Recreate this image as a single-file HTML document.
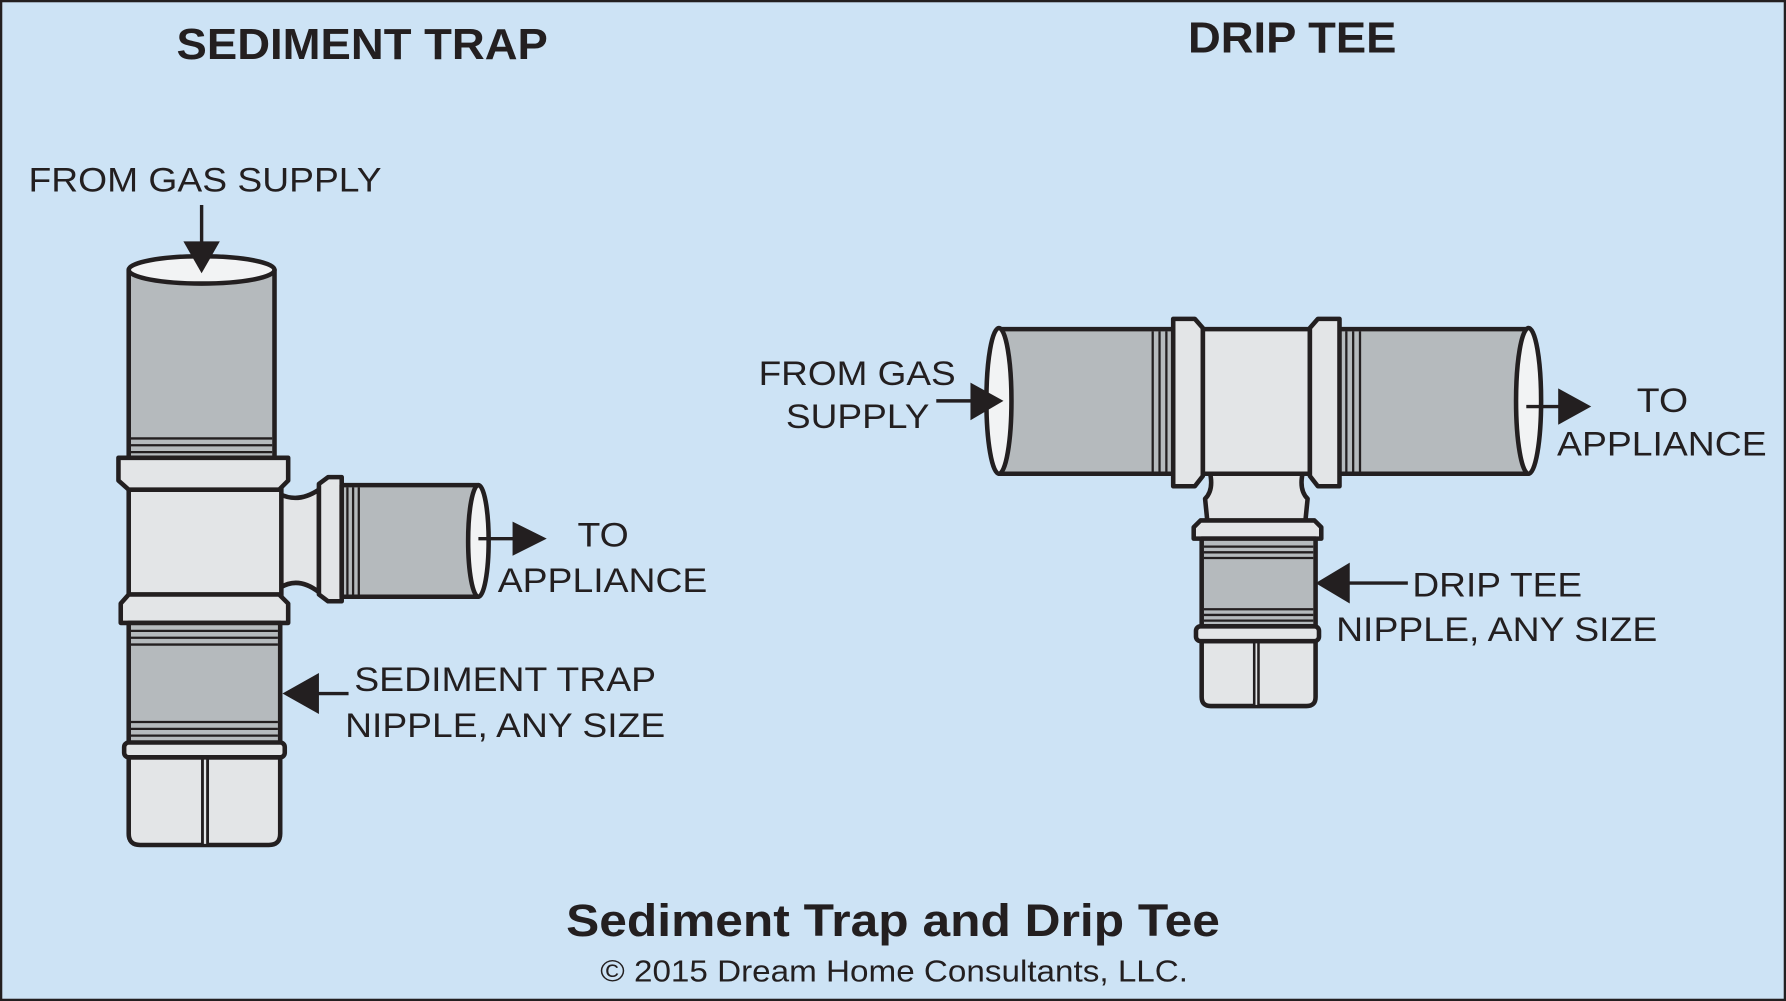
<!DOCTYPE html>
<html><head><style>html,body{margin:0;padding:0;background:#cde3f5}svg{display:block}text{font-family:"Liberation Sans",Arial,sans-serif;fill:#231f20}</style></head>
<body>
<svg width="1786" height="1001" viewBox="0 0 1568 879" preserveAspectRatio="none" xmlns="http://www.w3.org/2000/svg">
<rect x="1" y="1" width="1566" height="877" fill="#cde3f5" stroke="#231f20" stroke-width="2"/>
<g stroke="#231f20" stroke-width="4" stroke-linejoin="round">
<rect x="113" y="237" width="128" height="168" fill="#b5babd"/>
<g stroke-width="2"><line x1="115" y1="385" x2="239" y2="385"/><line x1="115" y1="391" x2="239" y2="391"/><line x1="115" y1="397" x2="239" y2="397"/></g>
<ellipse cx="177" cy="237" rx="64" ry="12" fill="#f2f3f4"/>
<path d="M246 434 Q262 442 280 430 L280 520 Q262 506 246 516 Z" fill="#e3e5e7"/>
<rect x="113" y="428" width="134" height="96" fill="#e3e5e7"/>
<path d="M104 402 H253 V422 L245 430 H113 L104 422 Z" fill="#e3e5e7"/>
<path d="M113 522 H245 L253 530 V547 H106 V530 Z" fill="#e3e5e7"/>
<path d="M280 425 L288 419 H300 V528 H288 L280 522 Z" fill="#e3e5e7"/>
<rect x="300" y="426" width="120" height="98" fill="#b5babd"/>
<g stroke-width="2"><line x1="305" y1="428" x2="305" y2="522"/><line x1="310" y1="428" x2="310" y2="522"/><line x1="315" y1="428" x2="315" y2="522"/></g>
<ellipse cx="420" cy="475" rx="9" ry="49" fill="#f2f3f4"/>
<rect x="113" y="547" width="133" height="106" fill="#b5babd"/>
<g stroke-width="2"><line x1="115" y1="554" x2="244" y2="554"/><line x1="115" y1="560" x2="244" y2="560"/><line x1="115" y1="566" x2="244" y2="566"/><line x1="115" y1="634" x2="244" y2="634"/><line x1="115" y1="640" x2="244" y2="640"/><line x1="115" y1="646" x2="244" y2="646"/></g>
<path d="M113 665 H246 V732 Q246 742 236 742 H123 Q113 742 113 732 Z" fill="#e3e5e7"/>
<line x1="180" y1="665" x2="180" y2="742" stroke-width="7"/>
<line x1="180" y1="666" x2="180" y2="741" stroke="#e3e5e7" stroke-width="2"/>
<rect x="109" y="652" width="141" height="13" rx="4" fill="#e3e5e7"/>
<path d="M1062 414 Q1066 430 1058 438 L1060 458 H1146 L1148 438 Q1140 430 1144 414 Z" fill="#e3e5e7"/>
<rect x="877" y="289" width="155" height="127" fill="#b5babd"/>
<rect x="1174" y="289" width="168" height="127" fill="#b5babd"/>
<g stroke-width="2"><line x1="1012" y1="291" x2="1012" y2="414"/><line x1="1018" y1="291" x2="1018" y2="414"/><line x1="1024" y1="291" x2="1024" y2="414"/><line x1="1182" y1="291" x2="1182" y2="414"/><line x1="1188" y1="291" x2="1188" y2="414"/><line x1="1194" y1="291" x2="1194" y2="414"/></g>
<ellipse cx="877" cy="352" rx="11" ry="64" fill="#f2f3f4"/>
<ellipse cx="1342" cy="352" rx="11" ry="64" fill="#f2f3f4"/>
<rect x="1056" y="289" width="94" height="127" fill="#e3e5e7"/>
<path d="M1030 280 H1049 L1056 288 V418 L1049 427 H1030 Z" fill="#e3e5e7"/>
<path d="M1176 280 H1157 L1150 288 V418 L1157 427 H1176 Z" fill="#e3e5e7"/>
<path d="M1054 457 H1154 L1160 463 V473 H1048 V463 Z" fill="#e3e5e7"/>
<rect x="1055" y="473" width="100" height="78" fill="#b5babd"/>
<g stroke-width="2"><line x1="1057" y1="480" x2="1153" y2="480"/><line x1="1057" y1="485" x2="1153" y2="485"/><line x1="1057" y1="490" x2="1153" y2="490"/><line x1="1057" y1="535" x2="1153" y2="535"/><line x1="1057" y1="540" x2="1153" y2="540"/><line x1="1057" y1="545" x2="1153" y2="545"/></g>
<path d="M1055 563 H1155 V612 Q1155 620 1147 620 H1063 Q1055 620 1055 612 Z" fill="#e3e5e7"/>
<line x1="1103" y1="563" x2="1103" y2="620" stroke-width="6"/>
<line x1="1103" y1="564" x2="1103" y2="619" stroke="#e3e5e7" stroke-width="1.5"/>
<rect x="1050" y="550" width="108" height="13" rx="4" fill="#e3e5e7"/>
</g>
<g fill="#231f20" stroke="#231f20" stroke-width="3">
<line x1="177" y1="180" x2="177" y2="215"/><polygon points="161,212 193,212 177,240" stroke="none"/>
<line x1="420" y1="473" x2="452" y2="473"/><polygon points="450,458 450,488 480,473" stroke="none"/>
<line x1="278" y1="609" x2="306" y2="609"/><polygon points="248,609 280,591 280,627" stroke="none"/>
<line x1="822" y1="352" x2="856" y2="352"/><polygon points="852,336 852,369 881,352" stroke="none"/>
<line x1="1340" y1="357" x2="1370" y2="357"/><polygon points="1368,341 1368,373 1397,357" stroke="none"/>
<line x1="1183" y1="512" x2="1236" y2="512"/><polygon points="1155,512 1185,494 1185,530" stroke="none"/>
</g>
<text x="155" y="52" font-size="38" font-weight="bold" textLength="326" lengthAdjust="spacingAndGlyphs">SEDIMENT TRAP</text>
<text x="1043" y="46" font-size="38" font-weight="bold" textLength="183" lengthAdjust="spacingAndGlyphs">DRIP TEE</text>
<g font-size="30" lengthAdjust="spacingAndGlyphs">
<text x="25" y="168" textLength="310" lengthAdjust="spacingAndGlyphs">FROM GAS SUPPLY</text>
<text x="507" y="480" textLength="45" lengthAdjust="spacingAndGlyphs">TO</text>
<text x="437" y="520" textLength="184" lengthAdjust="spacingAndGlyphs">APPLIANCE</text>
<text x="311" y="607" textLength="265" lengthAdjust="spacingAndGlyphs">SEDIMENT TRAP</text>
<text x="303" y="647" textLength="281" lengthAdjust="spacingAndGlyphs">NIPPLE, ANY SIZE</text>
<text x="666" y="338" textLength="173" lengthAdjust="spacingAndGlyphs">FROM GAS</text>
<text x="690" y="376" textLength="126" lengthAdjust="spacingAndGlyphs">SUPPLY</text>
<text x="1437" y="362" textLength="45" lengthAdjust="spacingAndGlyphs">TO</text>
<text x="1367" y="400" textLength="184" lengthAdjust="spacingAndGlyphs">APPLIANCE</text>
<text x="1240" y="524" textLength="149" lengthAdjust="spacingAndGlyphs">DRIP TEE</text>
<text x="1173" y="563" textLength="282" lengthAdjust="spacingAndGlyphs">NIPPLE, ANY SIZE</text>
</g>
<text x="497" y="822" font-size="40" font-weight="bold" textLength="574" lengthAdjust="spacingAndGlyphs">Sediment Trap and Drip Tee</text>
<text x="527" y="862" font-size="27" textLength="516" lengthAdjust="spacingAndGlyphs">© 2015 Dream Home Consultants, LLC.</text>
</svg>
</body></html>
